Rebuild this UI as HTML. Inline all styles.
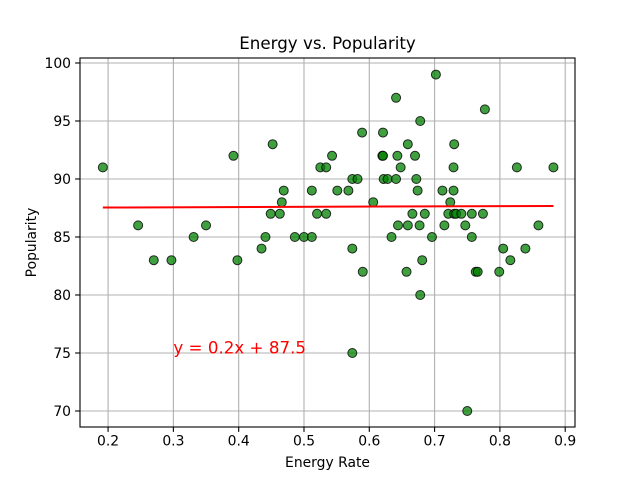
<!DOCTYPE html>
<html><head><meta charset="utf-8"><style>body{margin:0;background:#fff}svg{display:block;font-family:"DejaVu Sans","Liberation Sans",sans-serif}</style></head>
<body>
<svg id="chart" width="640" height="480" xmlns="http://www.w3.org/2000/svg">
<rect width="640" height="480" fill="#fff"/>
<g id="grid"></g>
<g id="points"></g>
<g id="trend"></g>
<g id="axes"></g>
</svg>
<script>
const energy=[0.192,0.246,0.27,0.297,0.331,0.35,0.392,0.398,0.435,0.441,0.449,0.452,0.463,0.466,0.469,0.486,0.5,0.512,0.512,0.52,0.525,0.534,0.534,0.543,0.551,0.568,0.574,0.574,0.574,0.582,0.589,0.59,0.606,0.62,0.621,0.621,0.622,0.628,0.634,0.641,0.641,0.643,0.644,0.648,0.657,0.659,0.659,0.666,0.67,0.672,0.674,0.677,0.678,0.678,0.681,0.685,0.696,0.702,0.712,0.715,0.721,0.724,0.729,0.729,0.73,0.73,0.733,0.741,0.747,0.75,0.757,0.757,0.763,0.766,0.774,0.777,0.799,0.805,0.816,0.826,0.839,0.859,0.882];
const popularity=[91,86,83,83,85,86,92,83,84,85,87,93,87,88,89,85,85,85,89,87,91,91,87,92,89,89,84,90,75,90,94,82,88,92,92,94,90,90,85,90,97,92,86,91,82,93,86,87,92,90,89,86,80,95,83,87,85,99,89,86,87,88,91,89,93,87,87,87,86,70,87,85,82,82,87,96,82,84,83,91,84,86,91];
const xTicks=[0.2,0.3,0.4,0.5,0.6,0.7,0.8,0.9];
const yTicks=[70,75,80,85,90,95,100];
const slope=0.2, intercept=87.5;
const L=80,R=575,T=58,B=427;
const xmin=0.157,xmax=0.915,ymin=68.62,ymax=100.43;
const X=v=>L+(v-xmin)/(xmax-xmin)*(R-L);
const Y=v=>B-(v-ymin)/(ymax-ymin)*(B-T);
const NS="http://www.w3.org/2000/svg";
function mk(tag,attrs,parent,text){const e=document.createElementNS(NS,tag);for(const k in attrs)e.setAttribute(k,attrs[k]);if(text!==undefined)e.textContent=text;parent.appendChild(e);return e;}
const grid=document.getElementById('grid'),axes=document.getElementById('axes'),pts=document.getElementById('points'),tr=document.getElementById('trend');
xTicks.forEach(t=>{
 const g=mk('line',{x1:X(t),x2:X(t),y1:T,y2:B,stroke:'#b0b0b0','stroke-width':1.1},grid);
 
 
 const tk=mk('line',{x1:X(t),x2:X(t),y1:B,y2:B+4.9,stroke:'#000','stroke-width':1.1},axes);
 
 
 const lb=mk('text',{x:X(t),y:B+18.5,'text-anchor':'middle','font-size':13.9},axes,String(t));
 
 
});
yTicks.forEach(t=>{
 const g=mk('line',{x1:L,x2:R,y1:Y(t),y2:Y(t),stroke:'#b0b0b0','stroke-width':1.1},grid);
 
 
 const tk=mk('line',{x1:L-4.9,x2:L,y1:Y(t),y2:Y(t),stroke:'#000','stroke-width':1.1},axes);
 
 
 const lb=mk('text',{x:L-9,y:Y(t)+5,'text-anchor':'end','font-size':13.9},axes,String(t));
 
 
});
energy.forEach((e,i)=>{
 const c=mk('circle',{cx:X(e),cy:Y(popularity[i]),r:4.5,fill:'rgba(0,128,0,0.75)',stroke:'#000','stroke-opacity':0.8,'stroke-width':1},pts);
 
 
});
const x0=Math.min(...energy),x1=Math.max(...energy);
const ln=mk('line',{x1:X(x0),y1:Y(slope*x0+intercept),x2:X(x1),y2:Y(slope*x1+intercept),stroke:'#ff0000','stroke-width':2},tr);


const eq=mk('text',{x:X(0.3),y:Y(75)+0.5,fill:'#ff0000','font-size':16.7},tr,'y = '+slope+'x + '+intercept);


const fr=mk('rect',{x:L,y:T,width:R-L,height:B-T,fill:'none',stroke:'#000','stroke-width':1.1},axes);


const ti=mk('text',{x:(L+R)/2,y:49,'text-anchor':'middle','font-size':16.7},axes,'Energy vs. Popularity');


const xt=mk('text',{x:(L+R)/2,y:467,'text-anchor':'middle','font-size':13.9},axes,'Energy Rate');


const yt=mk('text',{x:36,y:(T+B)/2,'text-anchor':'middle','font-size':13.9,transform:'rotate(-90 36 '+((T+B)/2)+')'},axes,'Popularity');


</script>
</body></html>
